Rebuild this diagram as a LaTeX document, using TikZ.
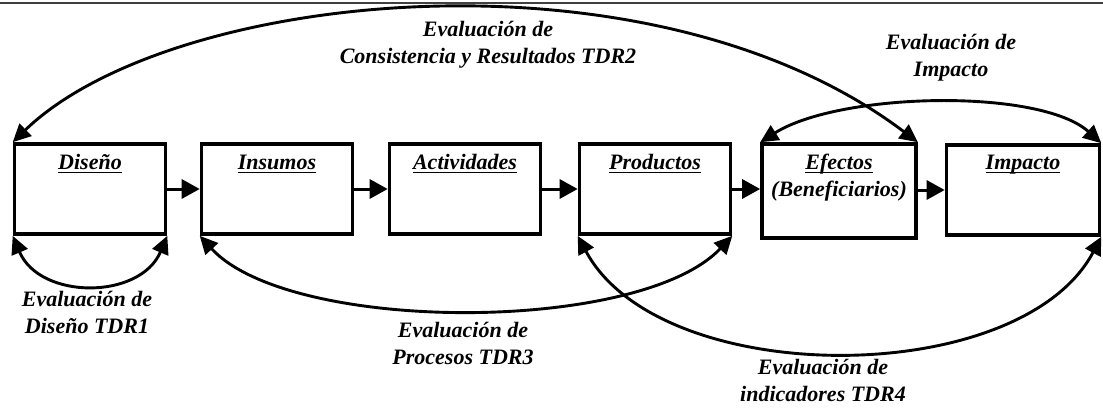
\documentclass[tikz,border=0pt]{standalone}
\usepackage{fontspec}
\setmainfont{Liberation Serif}
\usetikzlibrary{arrows.meta}
\newcommand\uln[1]{\sbox0{#1}\rlap{\rule[-3pt]{\wd0}{1.4pt}}\usebox0}
\begin{document}
\begin{tikzpicture}[x=1pt,y=-1pt,
  box/.style={draw,shape=rectangle,line width=3.6pt,minimum width=151pt,minimum height=90pt,inner sep=0pt},
  ttl/.style={font=\bfseries\itshape\fontsize{22}{27}\selectfont,inner sep=0pt,align=center},
  flow/.style={line width=3pt,-{Triangle[length=18pt,width=19pt]}},
  evl/.style={line width=2.9pt,{Triangle[length=18pt,width=17pt]}-{Triangle[length=18pt,width=17pt]}}]
\useasboundingbox (0,0) rectangle (1103,409);
\draw[line width=1.2pt,black!75] (0,3) -- (1103,3);
\node[box](dis) at (90,189){};
\node[box](ins) at (277,189){};
\node[box](act) at (465,189){};
\node[box](pro) at (655,189){};
\node[box,minimum width=154pt,minimum height=94pt](efe) at (839,191){};
\node[box,minimum width=153pt](imp) at (1023,190){};
\node[ttl,anchor=base](disT) at (90,170){\uln{Diseño}};
\node[ttl,anchor=base](insT) at (277,170){\uln{Insumos}};
\node[ttl,anchor=base](actT) at (465,170){\uln{Actividades}};
\node[ttl,anchor=base](proT) at (655,170){\uln{Productos}};
\node[ttl](efeT) at (839,178){\uln{Efectos}\\(Beneficiarios)};
\node[ttl,anchor=base](impT) at (1023,170){\uln{Impacto}};
\draw[flow] (dis.east) -- (ins.west);
\draw[flow] (ins.east) -- (act.west);
\draw[flow] (act.east) -- (pro.west);
\draw[flow] (pro.east) -- (pro.east -| efe.west);
\draw[flow] (efe.east |- imp.west) -- (imp.west);
\draw[evl] (dis.north west) .. controls (170,-10) and (650,-60) .. (efe.north east);
\draw[evl] (efe.north west) .. controls (840,92) and (1040,88) .. (imp.north east);
\draw[evl] (dis.south west) .. controls (40,300) and (140,300) .. (dis.south east);
\draw[evl] (ins.south west) .. controls (290,334) and (640,334) .. (pro.south east);
\draw[evl] (pro.south west) .. controls (660,390) and (1020,390) .. (imp.south east);
\node[ttl](tdr2) at (488,45){Evaluación de\\Consistencia y Resultados TDR2};
\node[ttl](eimp) at (951,58){Evaluación de\\Impacto};
\node[ttl](tdr1) at (87,312){Evaluación de\\Diseño TDR1};
\node[ttl](tdr3) at (463,343){Evaluación de\\Procesos TDR3};
\node[ttl](tdr4) at (823,380){Evaluación de\\indicadores TDR4};
\end{tikzpicture}
\end{document}
